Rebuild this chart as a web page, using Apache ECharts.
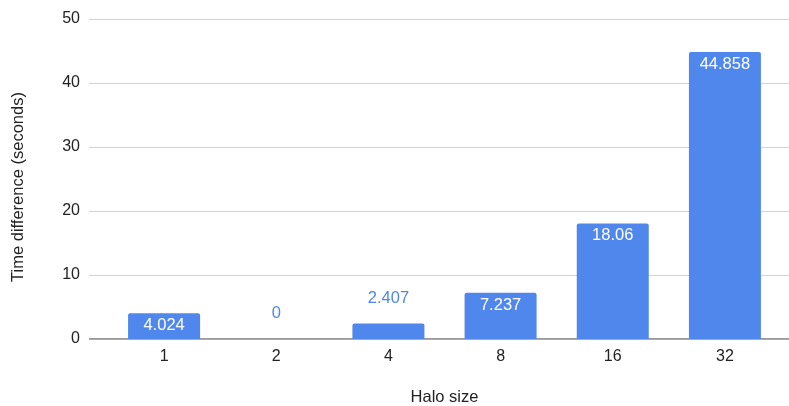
<!DOCTYPE html>
<html>
<head>
<meta charset="utf-8">
<script src="https://cdn.jsdelivr.net/npm/echarts@6/dist/echarts.min.js"></script>
<style>
  html, body { margin: 0; padding: 0; background: #fff; }
  #chart { width: 789px; height: 406px; }
</style>
</head>
<body>
<div id="chart"></div>
<script>
// Halo size vs. time difference
const haloSizes = ['1', '2', '4', '8', '16', '32'];
const timeDiff = [4.024, 0, 2.407, 7.237, 18.06, 44.858];
const yTicks = [0, 10, 20, 30, 40, 50];

const BLUE = '#5087ec';
const FONT = '"Liberation Sans", Arial, Helvetica, sans-serif';

// Short bars get their label above the bar, taller ones inside at the top.
const barData = timeDiff.map(v => {
  const inside = v >= 4;
  return {
    value: v,
    label: inside
      ? { position: 'insideTop', distance: 4, color: '#fff' }
      : { position: 'top', distance: 17, color: BLUE }
  };
});

const chart = echarts.init(document.getElementById('chart'));
chart.setOption({
  animation: false,
  textStyle: { fontFamily: FONT },
  grid: [
    // gridlines + value labels
    { left: 89, right: 0, top: 19, bottom: 67, containLabel: false, outerBoundsMode: 'none' },
    // bars
    { left: 108, right: 8, top: 19, bottom: 67, containLabel: false, outerBoundsMode: 'none' }
  ],
  xAxis: [
    { gridIndex: 0, type: 'value', show: false, min: 0, max: 1 },
    {
      gridIndex: 1,
      type: 'category',
      data: haloSizes,
      name: 'Halo size',
      nameLocation: 'middle',
      nameGap: 50,
      nameTextStyle: { color: '#222', fontSize: 16.5, fontFamily: FONT },
      axisLine: { show: false },
      axisTick: { show: false },
      axisLabel: { color: '#222', fontSize: 16, margin: 10, fontFamily: FONT }
    }
  ],
  yAxis: [
    {
      gridIndex: 0,
      type: 'value',
      min: yTicks[0],
      max: yTicks[yTicks.length - 1],
      interval: yTicks[1] - yTicks[0],
      name: 'Time difference (seconds)',
      nameLocation: 'middle',
      nameGap: 62,
      nameTextStyle: { color: '#222', fontSize: 16.5, fontFamily: FONT, padding: [0, 16, 0, 0] },
      axisLine: { show: false },
      axisTick: { show: false },
      axisLabel: { color: '#222', fontSize: 16, margin: 9, fontFamily: FONT },
      splitLine: { lineStyle: { color: '#d4d4d4', width: 1 } }
    },
    {
      gridIndex: 1,
      type: 'value',
      min: yTicks[0],
      max: yTicks[yTicks.length - 1],
      show: false
    }
  ],
  series: [
    {
      // baseline drawn across the full plot width
      type: 'line',
      xAxisIndex: 0,
      yAxisIndex: 0,
      data: [[0, 0], [1, 0]],
      symbol: 'none',
      lineStyle: { color: '#333', width: 1 },
      silent: true,
      z: 1
    },
    {
      type: 'bar',
      xAxisIndex: 1,
      yAxisIndex: 1,
      data: barData,
      barWidth: 72,
      itemStyle: { color: BLUE, borderRadius: [2, 2, 0, 0] },
      label: {
        show: true,
        fontSize: 16.5,
        fontFamily: FONT,
        formatter: p => String(p.value)
      },
      z: 2
    }
  ]
});
</script>
</body>
</html>
